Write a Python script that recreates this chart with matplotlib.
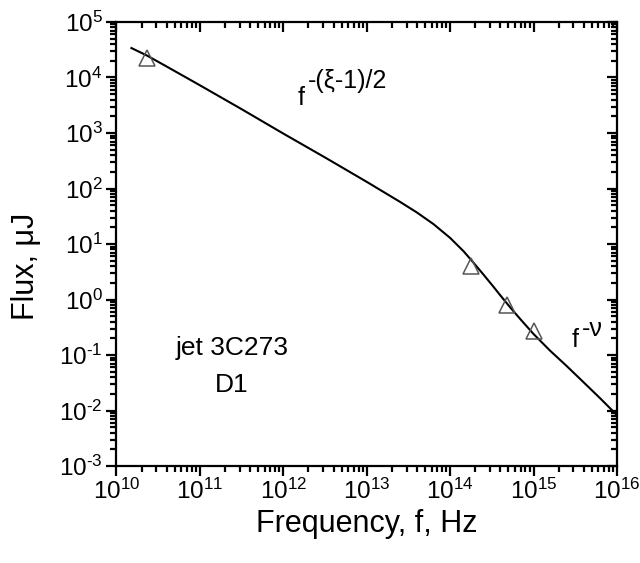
import matplotlib
matplotlib.use("Agg")
import numpy as np
import matplotlib.pyplot as plt
from matplotlib.ticker import LogLocator, NullFormatter, FuncFormatter

plt.rcParams['font.family'] = ['Liberation Sans', 'DejaVu Sans']
plt.rcParams['mathtext.fontset'] = 'custom'
plt.rcParams['mathtext.rm'] = 'Liberation Sans'
plt.rcParams['mathtext.it'] = 'Liberation Sans'
plt.rcParams['mathtext.bf'] = 'Liberation Sans'

# Synchrotron model curve for the jet knot
model_freq = [1.51e10, 2.29e10, 3.98e10, 1e11, 3.16e11, 1e12, 3.16e12, 1e13,
              2.51e13, 3.98e13, 6.31e13, 1e14, 1.45e14, 1.82e14, 2.51e14,
              3.31e14, 3.98e14, 5.25e14, 6.92e14, 1e15, 1.58e15, 2.51e15,
              3.98e15, 6.31e15, 1e16]
model_flux = [3.39e4, 2.51e4, 1.58e4, 7.24e3, 2.69e3, 977, 363, 132,
              57.5, 37.2, 22.9, 12.9, 7.41, 5.01, 2.82,
              1.70, 1.20, 0.724, 0.447, 0.240, 0.120, 0.0631,
              0.0324, 0.0166, 8.3e-3]

# Observed fluxes
obs_freq = [2.3e10, 1.8e14, 4.8e14, 1.0e15]
obs_flux = [2.2e4, 4.1, 0.8, 0.27]

XLIM = (1e10, 1e16)
YLIM = (1e-3, 1e5)
LW = 1.6


def power_label(val, pos):
    exp = int(round(np.log10(val)))
    sign = r'\text{-}' if exp < 0 else ''
    return r'$\mathregular{10^{%s%d}}$' % (sign, abs(exp))


fig = plt.figure(figsize=(6.4, 5.63), dpi=100)
rect = [0.182, 0.172, 0.782, 0.789]
ax = fig.add_axes(rect)

ax.plot(model_freq, model_flux, color='black', lw=1.5, zorder=3)
ax.plot(obs_freq, obs_flux, linestyle='none', marker='^', markersize=11,
        markerfacecolor='none', markeredgecolor='#555555', markeredgewidth=1.1,
        zorder=4)


def log_axes_setup(a):
    a.set_xscale('log')
    a.set_yscale('log')
    a.set_xlim(*XLIM)
    a.set_ylim(*YLIM)
    for axis in (a.xaxis, a.yaxis):
        axis.set_major_locator(LogLocator(base=10, numticks=12))
        axis.set_minor_locator(LogLocator(base=10, subs=np.arange(2, 10), numticks=12))
        axis.set_minor_formatter(NullFormatter())


log_axes_setup(ax)
ax.xaxis.set_major_formatter(FuncFormatter(power_label))
ax.yaxis.set_major_formatter(FuncFormatter(power_label))
for s in ax.spines.values():
    s.set_linewidth(LW)

# bottom and left ticks point outward
ax.tick_params(which='both', direction='out', width=LW, labelsize=17.5,
               top=False, right=False)
ax.tick_params(which='major', length=7)
ax.tick_params(which='minor', length=4)
ax.tick_params(axis='x', pad=2)
ax.tick_params(axis='y', pad=3)

# overlay carrying inward ticks on the top and right edges
ov = fig.add_axes(rect, frameon=False)
log_axes_setup(ov)
ov.patch.set_visible(False)
ov.tick_params(which='both', direction='in', width=LW,
               bottom=False, left=False, top=True, right=True,
               labelbottom=False, labelleft=False, labeltop=False, labelright=False)
ov.tick_params(which='major', length=7)
ov.tick_params(which='minor', length=4)

ax.set_xlabel('Frequency, f, Hz', fontsize=22, labelpad=4)
ax.set_ylabel('Flux, μJ', fontsize=22)
ax.yaxis.set_label_coords(-0.151, 0.45)

# power-law annotations: base letter plus raised exponent
ax.text(1.5e12, 3.2e3, 'f', fontsize=18)
ax.annotate('-(ξ-1)/2', xy=(1.5e12, 3.2e3), xytext=(7, 12),
            textcoords='offset points', fontsize=18)
ax.text(2.9e15, 0.139, 'f', fontsize=18)
ax.annotate('-ν', xy=(2.9e15, 0.139), xytext=(7, 8),
            textcoords='offset points', fontsize=18)

ax.text(2.43e11, 0.1, 'jet 3C273', fontsize=19, ha='center', va='baseline')
ax.text(2.43e11, 0.0215, 'D1', fontsize=19, ha='center', va='baseline')

fig.savefig('out.png', dpi=100)
